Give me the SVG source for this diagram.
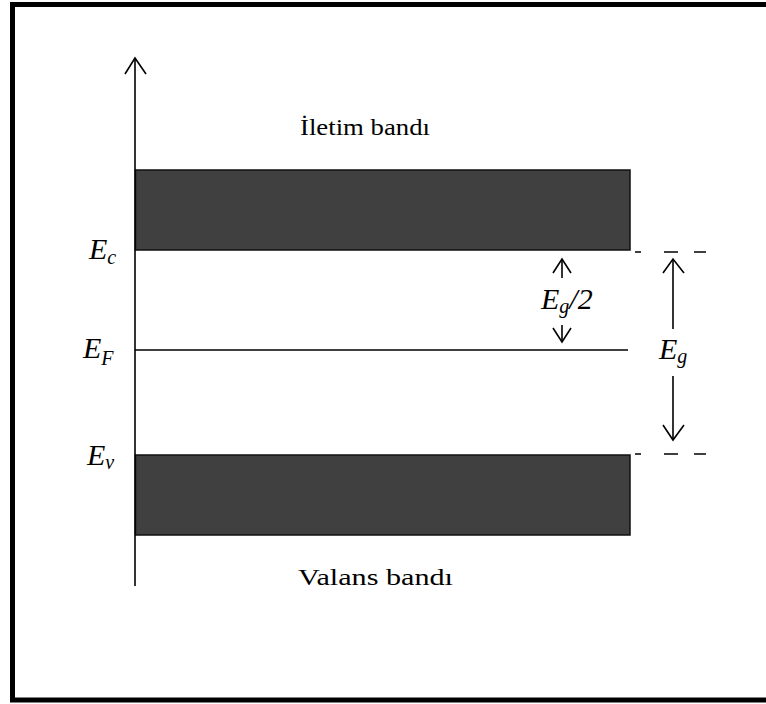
<svg xmlns="http://www.w3.org/2000/svg" width="766" height="704" viewBox="0 0 766 704">
<style>
.band{fill:#404040;stroke:#111;stroke-width:1.5}
.ln{stroke:#000;stroke-width:1.6;fill:none}
.ah{stroke:#000;stroke-width:1.6;fill:none;stroke-linejoin:miter}
.dash{stroke:#000;stroke-width:1.3;fill:none;stroke-dasharray:6 23 14 16 12 100}
.lbl{font-family:"Liberation Serif","Times New Roman",serif;font-size:24px;fill:#000}
.e{font-family:"Liberation Serif","Times New Roman",serif;font-style:italic;font-size:30px;fill:#000}
.s{font-size:20px}
</style>
<rect x="12.5" y="4.5" width="760" height="695.5" fill="#fff" stroke="#000" stroke-width="5"/>
<g id="conduction-band"><rect class="band" x="135.5" y="170" width="494.5" height="80"/></g>
<g id="valence-band"><rect class="band" x="135.5" y="455" width="494.5" height="80"/></g>
<g id="label-conduction"><text class="lbl" x="300" y="135" textLength="130" lengthAdjust="spacingAndGlyphs">İletim bandı</text></g>
<g id="label-valence"><text class="lbl" x="298" y="585" textLength="155" lengthAdjust="spacingAndGlyphs">Valans bandı</text></g>
<g id="label-Ec"><text class="e" x="89" y="259">E<tspan class="s" dy="5">c</tspan></text></g>
<g id="label-EF"><text class="e" x="83" y="358">E<tspan class="s" dy="7">F</tspan></text></g>
<g id="label-Ev"><text class="e" x="87" y="465">E<tspan class="s" dy="4">v</tspan></text></g>
<g id="label-Eg2"><text class="e" x="541" y="309">E<tspan class="s" dy="4">g</tspan><tspan dy="-4">/2</tspan></text></g>
<g id="label-Eg"><text class="e" x="659" y="359">E<tspan class="s" dy="4">g</tspan></text></g>
<g id="connectors">
<line class="ln" x1="135" y1="58" x2="135" y2="586"/>
<polyline class="ah" points="125,74 135,58 146,74"/>
<line class="ln" x1="135" y1="350" x2="628" y2="350"/>
<line class="dash" x1="635" y1="252" x2="706" y2="252"/>
<line class="dash" x1="635" y1="454" x2="706" y2="454"/>
<line class="ln" x1="562" y1="259" x2="562" y2="278"/>
<polyline class="ah" points="553,273 562,259 571,273"/>
<line class="ln" x1="562" y1="325" x2="562" y2="342"/>
<polyline class="ah" points="553,328 562,342 571,328"/>
<line class="ln" x1="673" y1="259" x2="673" y2="329"/>
<polyline class="ah" points="663,273 673,259 684,273"/>
<line class="ln" x1="673" y1="376" x2="673" y2="440"/>
<polyline class="ah" points="663,425 673,440 684,425"/>
</g>
</svg>
